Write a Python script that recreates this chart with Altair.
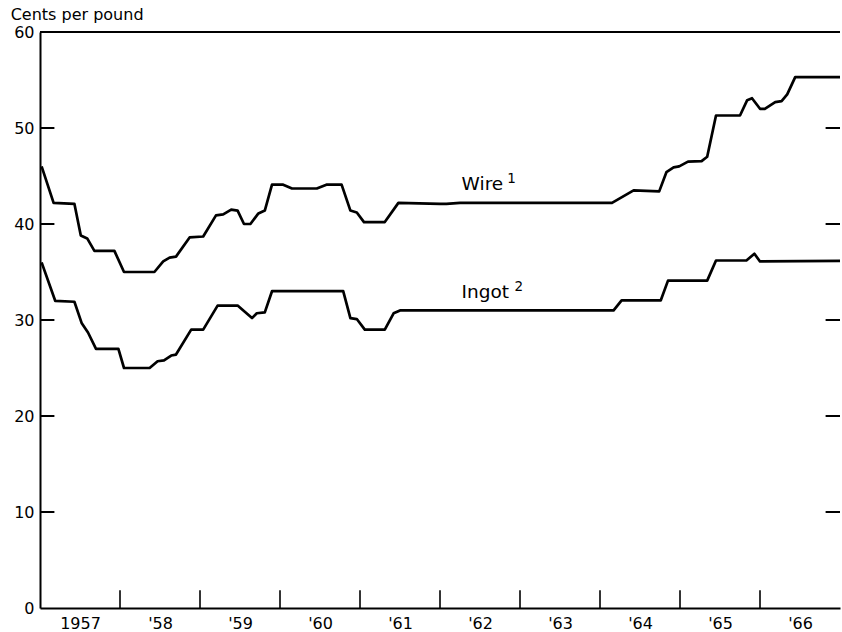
import altair as alt
import pandas as pd

# ---- data ----
wire_years = [1957.02, 1957.17, 1957.43, 1957.51, 1957.59, 1957.68, 1957.93, 1958.05, 1958.43,
              1958.54, 1958.62, 1958.70, 1958.87, 1959.04, 1959.20, 1959.29, 1959.39, 1959.47,
              1959.55, 1959.63, 1959.73, 1959.81, 1959.90, 1960.04, 1960.15, 1960.46, 1960.58,
              1960.77, 1960.88, 1960.96, 1961.05, 1961.31, 1961.48, 1962.00, 1962.08, 1962.25,
              1964.15, 1964.42, 1964.74, 1964.83, 1964.92, 1964.99, 1965.10, 1965.27, 1965.34,
              1965.45, 1965.75, 1965.84, 1965.90, 1966.00, 1966.06, 1966.19, 1966.27, 1966.34,
              1966.44, 1967.00]
wire_values = [46.0, 42.2, 42.1, 38.8, 38.5, 37.2, 37.2, 35.0, 35.0,
               36.1, 36.5, 36.6, 38.6, 38.7, 40.9, 41.0, 41.5, 41.4,
               40.0, 40.0, 41.1, 41.4, 44.1, 44.1, 43.7, 43.7, 44.1,
               44.1, 41.4, 41.2, 40.2, 40.2, 42.2, 42.1, 42.1, 42.2,
               42.2, 43.5, 43.4, 45.4, 45.9, 46.0, 46.5, 46.55, 47.0,
               51.3, 51.3, 52.9, 53.1, 52.0, 52.0, 52.7, 52.8, 53.5,
               55.3, 55.3]

ingot_years = [1957.02, 1957.19, 1957.43, 1957.52, 1957.60, 1957.70, 1957.98, 1958.05, 1958.37,
               1958.47, 1958.55, 1958.64, 1958.70, 1958.89, 1959.04, 1959.22, 1959.47, 1959.65,
               1959.71, 1959.81, 1959.90, 1960.79, 1960.88, 1960.96, 1961.06, 1961.31, 1961.42,
               1961.50, 1964.17, 1964.27, 1964.76, 1964.85, 1965.34, 1965.45, 1965.83, 1965.93,
               1966.00, 1967.00]
ingot_values = [36.0, 32.0, 31.9, 29.7, 28.7, 27.0, 27.0, 25.0, 25.0,
                25.7, 25.8, 26.3, 26.4, 29.0, 29.0, 31.5, 31.5, 30.2,
                30.7, 30.8, 33.0, 33.0, 30.2, 30.1, 29.0, 29.0, 30.7,
                31.0, 31.0, 32.05, 32.05, 34.1, 34.1, 36.2, 36.2, 36.9,
                36.1, 36.15]

year_tick_positions = [1958, 1959, 1960, 1961, 1962, 1963, 1964, 1965, 1966]
year_label_positions = [1957.5, 1958.5, 1959.5, 1960.5, 1961.5, 1962.5, 1963.5, 1964.5, 1965.5, 1966.5]
year_labels = ["1957", "'58", "'59", "'60", "'61", "'62", "'63", "'64", "'65", "'66"]
y_tick_values = [0, 10, 20, 30, 40, 50, 60]
inner_tick_values = [10, 20, 30, 40, 50]

series_names = ["Wire", "Ingot"]
series_superscripts = ["1", "2"]
label_years = [1962.27, 1962.27]
label_values = [43.5, 32.3]
sup_years = [1962.84, 1962.93]
sup_values = [44.3, 33.0]

FONT = "DejaVu Sans"
X0, X1 = 1957, 1967

wire_df = pd.DataFrame({"year": wire_years, "value": wire_values, "series": "Wire"})
ingot_df = pd.DataFrame({"year": ingot_years, "value": ingot_values, "series": "Ingot"})
lines_df = pd.concat([wire_df, ingot_df], ignore_index=True)

label_expr = "[" + ",".join('"%s"' % t for t in year_labels) + "][floor(datum.value) - 1957]"

xscale = alt.Scale(domain=[X0, X1], nice=False, zero=False)
yscale = alt.Scale(domain=[0, 60], nice=False, zero=True)

lines = alt.Chart(lines_df).mark_line(color="black", strokeWidth=2.7, strokeJoin="round").encode(
    x=alt.X("year:Q", scale=xscale, title=None,
            axis=alt.Axis(values=year_label_positions, labelExpr=label_expr, ticks=False, tickSize=0,
                          grid=False, domainColor="black", domainWidth=2, labelFont=FONT,
                          labelFontSize=16, labelColor="black", labelPadding=7)),
    y=alt.Y("value:Q", scale=yscale, title=None,
            axis=alt.Axis(values=y_tick_values, ticks=False, tickSize=0, grid=False,
                          domainColor="black", domainWidth=2, labelFont=FONT, labelFontSize=16,
                          labelColor="black", labelPadding=6)),
    detail="series:N",
)

# inward ticks along the bottom (year boundaries)
xt_df = pd.DataFrame({"year": year_tick_positions, "value": 0.0, "value2": 1.85})
xticks = alt.Chart(xt_df).mark_rule(color="black", strokeWidth=1.6).encode(
    x=alt.X("year:Q", scale=xscale, title=None),
    y=alt.Y("value:Q", scale=yscale, title=None),
    y2="value2:Q",
)

# inward ticks on the left and right
lt_df = pd.DataFrame({"year": X0, "year2": X0 + 0.18, "value": inner_tick_values})
rt_df = pd.DataFrame({"year": X1 - 0.18, "year2": X1, "value": inner_tick_values})
lticks = alt.Chart(lt_df).mark_rule(color="black", strokeWidth=2).encode(
    x=alt.X("year:Q", scale=xscale, title=None), x2="year2:Q",
    y=alt.Y("value:Q", scale=yscale, title=None),
)
rticks = alt.Chart(rt_df).mark_rule(color="black", strokeWidth=2).encode(
    x=alt.X("year:Q", scale=xscale, title=None), x2="year2:Q",
    y=alt.Y("value:Q", scale=yscale, title=None),
)

# top frame line
top_df = pd.DataFrame({"year": [X0], "year2": [X1], "value": [60]})
topline = alt.Chart(top_df).mark_rule(color="black", strokeWidth=2).encode(
    x=alt.X("year:Q", scale=xscale, title=None), x2="year2:Q",
    y=alt.Y("value:Q", scale=yscale, title=None),
)

# series labels with superscripts
lab_df = pd.DataFrame({"year": label_years, "value": label_values, "text": series_names})
sup_df = pd.DataFrame({"year": sup_years, "value": sup_values, "text": series_superscripts})
labels = alt.Chart(lab_df).mark_text(font=FONT, fontSize=18.5, align="left", baseline="alphabetic",
                                     color="black").encode(
    x=alt.X("year:Q", scale=xscale, title=None),
    y=alt.Y("value:Q", scale=yscale, title=None),
    text="text:N",
)
sups = alt.Chart(sup_df).mark_text(font=FONT, fontSize=13.5, align="left", baseline="alphabetic",
                                   color="black").encode(
    x=alt.X("year:Q", scale=xscale, title=None),
    y=alt.Y("value:Q", scale=yscale, title=None),
    text="text:N",
)

chart = alt.layer(topline, xticks, lticks, rticks, lines, labels, sups).properties(
    width=800,
    height=576,
    title=alt.Title("Cents per pound", anchor="start", dx=-3, dy=21, offset=9, fontSize=16, font=FONT,
                    fontWeight="normal", color="black", baseline="alphabetic"),
    autosize=alt.AutoSizeParams(type="none"),
    padding={"left": 40, "top": 32, "right": 2, "bottom": 24},
    background="white",
).configure_view(stroke=None)

chart.save("out.html", embed_options={"renderer": "svg", "actions": False})
